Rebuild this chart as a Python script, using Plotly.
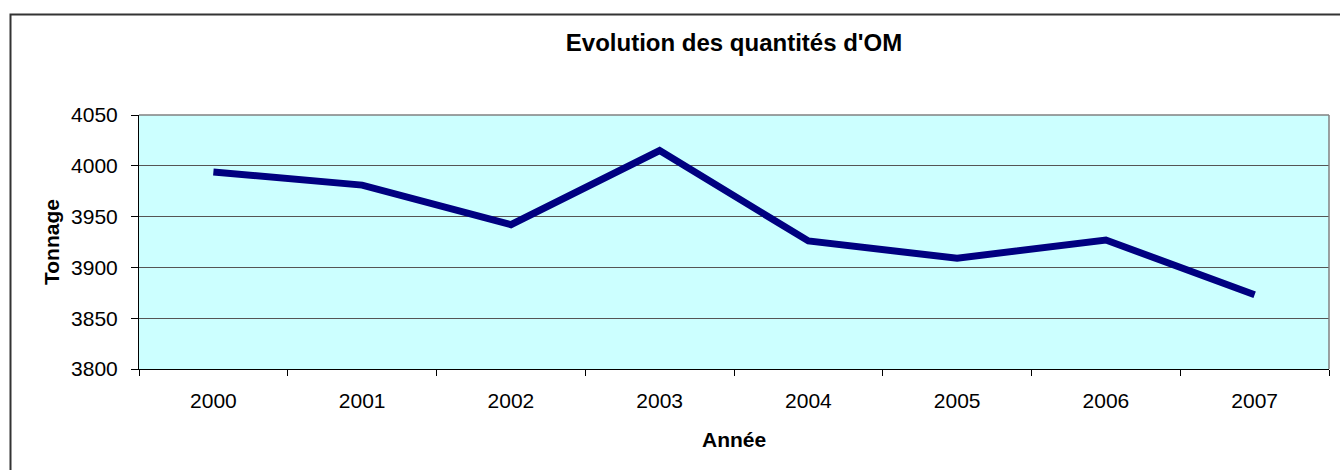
import plotly.graph_objects as go

years = ["2000", "2001", "2002", "2003", "2004", "2005", "2006", "2007"]
tonnage = [3994, 3981, 3942, 4015, 3926, 3909, 3927, 3873]
y_ticks = [3800, 3850, 3900, 3950, 4000, 4050]

W, H = 1340, 470
L, R, T, B = 139, 1329, 115, 369

def px_x(p):
    return (p - L) / (R - L)

def px_y(p):
    return (B - p) / (B - T)

FONT = "Liberation Sans, Arial, sans-serif"

fig = go.Figure()
fig.add_trace(go.Scatter(
    x=years, y=tonnage, mode="lines",
    line=dict(color="#000080", width=7),
    hoverinfo="skip", showlegend=False,
))

fig.update_layout(
    width=W, height=H,
    margin=dict(l=L, r=W - R, t=T, b=H - B),
    paper_bgcolor="white",
    plot_bgcolor="#CCFFFF",
    font=dict(family=FONT, color="black", size=21),
    title=dict(text="<b>Evolution des quantités d'OM</b>", x=(L + R) / 2 / W,
               xanchor="center", y=1 - 43 / H, yanchor="middle",
               font=dict(family=FONT, size=24, color="black")),
    xaxis=dict(
        type="category", tickson="boundaries", ticks="outside", ticklen=6,
        tickcolor="black", showline=True, linecolor="black", linewidth=1,
        showgrid=False, tickfont=dict(size=21), ticklabelstandoff=13,
        range=[-0.5, len(years) - 0.5],
    ),
    yaxis=dict(
        range=[3800, 4050], tickvals=y_ticks, ticks="outside", ticklen=7,
        tickcolor="black", showline=True, linecolor="black", linewidth=1,
        showgrid=True, gridcolor="#555555", gridwidth=1,
        tickfont=dict(size=21), ticklabelstandoff=9, zeroline=False,
    ),
    shapes=[
        dict(type="line", xref="paper", yref="paper", x0=0, x1=1, y0=1, y1=1,
             line=dict(color="#808080", width=1.5)),
        dict(type="line", xref="paper", yref="paper", x0=1, x1=1, y0=0, y1=1,
             line=dict(color="#808080", width=1.5)),
        dict(type="rect", xref="paper", yref="paper",
             x0=px_x(10.5), x1=px_x(1360), y0=px_y(490), y1=px_y(14.5),
             line=dict(color="#333333", width=2), layer="above"),
    ],
    annotations=[
        dict(text="<b>Année</b>", xref="paper", yref="paper", x=0.5, y=px_y(439.5),
             xanchor="center", yanchor="middle", showarrow=False,
             font=dict(family=FONT, size=21, color="black")),
        dict(text="<b>Tonnage</b>", xref="paper", yref="paper", x=px_x(51), y=px_y(242),
             xanchor="center", yanchor="middle", showarrow=False, textangle=-90,
             font=dict(family=FONT, size=21, color="black")),
    ],
)

fig.write_html(
    "out.html",
    config={"displayModeBar": False},
    post_script="document.body.style.margin='0';document.body.style.overflow='hidden';"
                "document.documentElement.style.overflow='hidden';",
)
